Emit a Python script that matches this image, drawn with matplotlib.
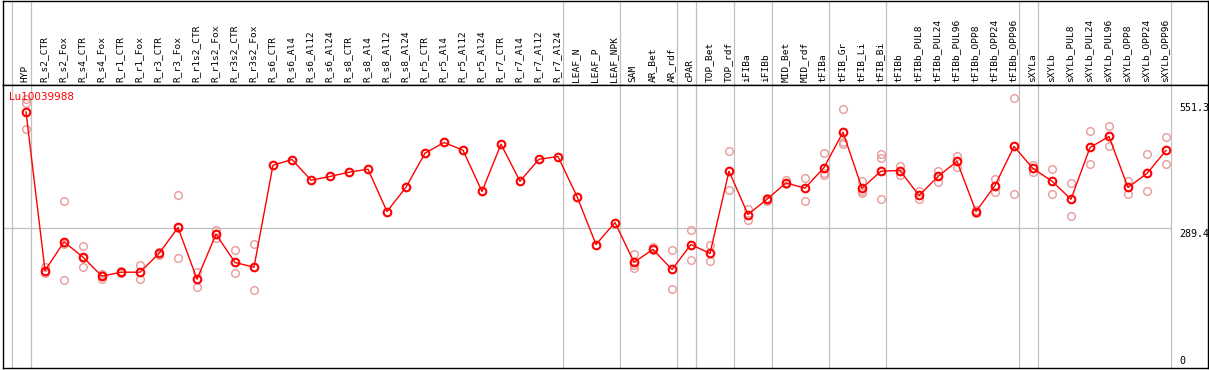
import matplotlib
matplotlib.use("Agg")
import matplotlib.pyplot as plt

CATEGORIES = [
    "HYP", "R_s2_CTR", "R_s2_Fox", "R_s4_CTR", "R_s4_Fox", "R_r1_CTR", "R_r1_Fox",
    "R_r3_CTR", "R_r3_Fox", "R_r1s2_CTR", "R_r1s2_Fox", "R_r3s2_CTR", "R_r3s2_Fox",
    "R_s6_CTR", "R_s6_Al4", "R_s6_Al12", "R_s6_Al24", "R_s8_CTR", "R_s8_Al4",
    "R_s8_Al12", "R_s8_Al24", "R_r5_CTR", "R_r5_Al4", "R_r5_Al12", "R_r5_Al24",
    "R_r7_CTR", "R_r7_Al4", "R_r7_Al12", "R_r7_Al24", "LEAF_N", "LEAF_P", "LEAF_NPK",
    "SAM", "AR_Bet", "AR_rdf", "cPAR", "TOP_Bet", "TOP_rdf", "iFIBa", "iFIBb",
    "MID_Bet", "MID_rdf", "tFIBa", "tFIB_Gr", "tFIB_Li", "tFIB_Bi", "tFIBb",
    "tFIBb_PUL8", "tFIBb_PUL24", "tFIBb_PUL96", "tFIBb_OPP8", "tFIBb_OPP24",
    "tFIBb_OPP96", "sXYLa", "sXYLb", "sXYLb_PUL8", "sXYLb_PUL24", "sXYLb_PUL96",
    "sXYLb_OPP8", "sXYLb_OPP24", "sXYLb_OPP96",
]

MEANS = [
    530.9, 202.1, 261.4, 229.7, 190.3, 198.6, 198.6, 237.4, 291.3, 184.1, 277.4,
    218.7, 209.0, 420.4, 432.2, 389.3, 397.0, 405.9, 412.1, 324.4, 374.8, 445.3,
    467.5, 451.5, 365.9, 463.9, 387.2, 432.8, 438.4, 355.5, 256.0, 301.6, 219.3,
    245.7, 204.2, 256.0, 237.4, 408.0, 318.2, 349.9, 383.7, 372.7, 415.6, 488.8,
    372.7, 408.0, 409.4, 357.6, 397.0, 428.7, 324.4, 378.3, 459.2, 413.6, 387.2,
    349.9, 457.1, 479.9, 374.2, 403.2, 450.9,
]

REPLICATES = [
    [558.3, 548.9, 495.0], [209.6, 195.9, 201.7], [345.8, 181.4, 257.1],
    [252.5, 209.0, 227.6], [192.4, 183.5, 194.4], [200.7, 197.1], [213.1, 185.5],
    [235.0, 240.0], [357.6, 227.0, 289.8], [199.2, 168.9], [285.7, 269.7],
    [243.6, 195.9], [256.6, 161.9],
    [], [], [], [], [], [], [], [], [], [], [], [], [], [], [], [], [], [], [],
    [235.9, 213.1, 207.5], [251.0, 244.2], [243.6, 164.8], [285.7, 224.9],
    [254.6, 222.0], [448.8, 368.0], [330.6, 307.0], [345.8, 353.4],
    [389.3, 380.4], [394.1, 347.2], [444.7, 403.2, 399.7], [536.5, 468.7, 463.9],
    [387.9, 366.5, 363.0], [443.2, 434.3, 349.9], [419.0, 399.7], [367.1, 350.5],
    [408.6, 385.2], [439.7, 416.9], [327.1, 321.5], [392.0, 365.1], [558.7, 359.7],
    [420.4, 406.5], [411.5, 361.7], [382.5, 314.1], [492.3, 423.9], [501.3, 461.2],
    [387.9, 359.7], [442.6, 365.9], [478.5, 423.9],
]

# separators are drawn just right of these columns (plus one before the first)
GROUP_ENDS = ["HYP", "R_r7_Al24", "LEAF_NPK", "AR_rdf", "cPAR", "TOP_rdf", "iFIBb",
              "tFIBa", "tFIB_Bi", "tFIBb_OPP96", "sXYLa", "sXYLb_OPP96"]
YLABELS = [551.3, 289.4, 0]
TITLE = "Lu10039988"

W, H = 1209, 370
GRAY = "#c0c0c0"
MONO = "DejaVu Sans Mono"

fig = plt.figure(figsize=(W / 100, H / 100), dpi=100)
left, right = 3, 1208
ax_h = fig.add_axes([left / W, (H - 85) / H, (right - left) / W, 84 / H])
ax = fig.add_axes([left / W, (H - 368) / H, (right - left) / W, (368 - 85) / H])

x0, dx = 26, 19
xlim = ((left - x0) / dx, (right - x0) / dx)
ymax = (368 - 85) / 0.4824
for a in (ax_h, ax):
    a.set_xlim(*xlim)
    a.set_xticks([])
    a.set_yticks([])
    for s in a.spines.values():
        s.set_color("black")
        s.set_linewidth(1.0)
ax_h.set_ylim(0, 84)
ax.set_ylim(0, ymax)

seps = [-1 + 0.25] + [CATEGORIES.index(c) + 0.25 for c in GROUP_ENDS]
for xs in seps:
    ax.axvline(xs, color=GRAY, lw=0.9, zorder=0)
    ax_h.axvline(xs, color=GRAY, lw=0.9, zorder=0)

ax.plot([xlim[0], seps[-1]], [289.4, 289.4], color=GRAY, lw=0.9, zorder=0)

for i, name in enumerate(CATEGORIES):
    ax_h.text(i - 0.05, 3, name, rotation=90, ha="center", va="bottom",
              family=MONO, fontsize=6.8, color="black")

xs = list(range(len(CATEGORIES)))
for i, reps in enumerate(REPLICATES):
    if reps:
        ax.plot([i] * len(reps), reps, linestyle="none", marker="o", ms=5.5,
                mfc="none", mec="#e89a9a", mew=1.0, zorder=2)
ax.plot(xs, MEANS, color="#ff0000", lw=1.0, marker="o", ms=5.5,
        mfc="none", mec="#ff0000", mew=1.5, zorder=3)

ax.text(-0.895, 562, TITLE, color="#ff0000", fontsize=7.5, ha="left", va="center",
        family="DejaVu Sans", zorder=4)

lx = (1179 - x0) / dx
for v in YLABELS:
    if v == 0:
        ax.text(lx, 5, "0", ha="left", va="bottom", family=MONO, fontsize=7.2)
    else:
        ax.text(lx, v - 1, f"{v}", ha="left", va="top", family=MONO, fontsize=7.2)

fig.savefig("out.png", dpi=100)
